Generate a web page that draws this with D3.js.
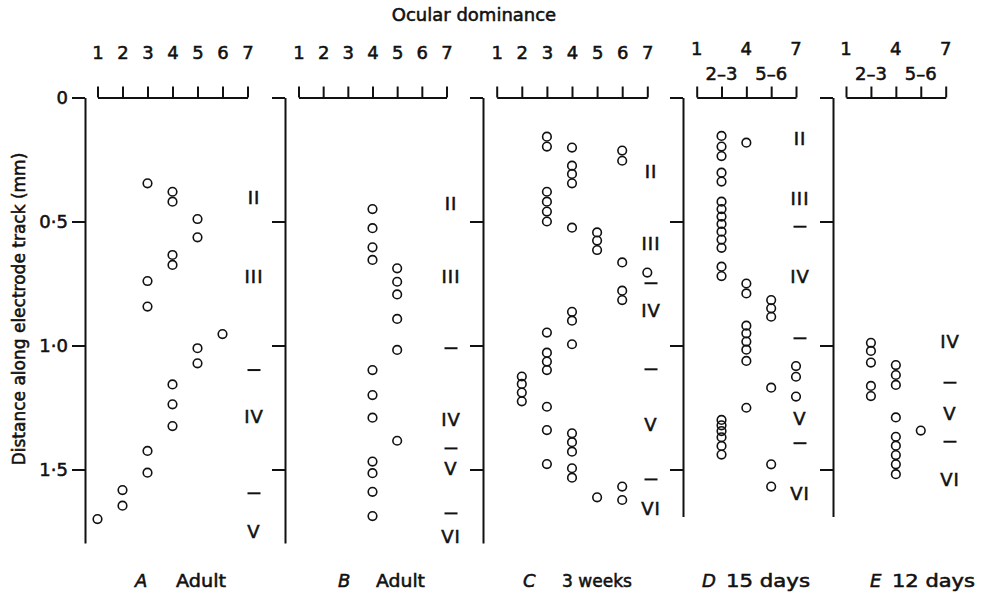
<!DOCTYPE html>
<html>
<head>
<meta charset="utf-8">
<script src="https://cdn.jsdelivr.net/npm/d3@7"></script>
<style>
  body { margin: 0; background: #fff; }
  svg { display: block; }
  text { font-family: "DejaVu Sans", "Liberation Sans", Arial, sans-serif; fill: #111;
         stroke: #111; stroke-width: 0.55px; }
</style>
</head>
<body>
<svg id="chart" width="987" height="593"></svg>
<script>
// Ocular dominance groups: full 7-point scale and the pooled scale
const odFull = [1, 2, 3, 4, 5, 6, 7];
const odPooled = ["1", "2–3", "4", "5–6", "7"];
const depthTicks = [0, 0.5, 1.0, 1.5];

// A — adult
const aOD    = [3, 4, 4, 5, 5, 4, 4, 3, 3, 6, 5, 5, 4, 4, 4, 3, 3, 2, 2, 1];
const aDepth = [0.346, 0.38, 0.42, 0.49, 0.564, 0.635, 0.675, 0.74, 0.843, 0.954,
                1.011, 1.072, 1.157, 1.237, 1.325, 1.425, 1.513, 1.583, 1.646, 1.70];
const aLayers      = ["II", "III", "IV", "V"];
const aLayerDepth  = [0.405, 0.72, 1.287, 1.75];
const aBoundaries  = [1.099, 1.596];

// B — adult
const bOD    = [4, 4, 4, 4, 5, 5, 5, 5, 5, 4, 4, 4, 5, 4, 4, 4, 4];
const bDepth = [0.45, 0.527, 0.604, 0.655, 0.689, 0.743, 0.794, 0.893, 1.018,
                1.099, 1.2, 1.291, 1.384, 1.468, 1.515, 1.59, 1.688];
const bLayers      = ["II", "III", "IV", "V", "VI"];
const bLayerDepth  = [0.427, 0.72, 1.298, 1.495, 1.771];
const bBoundaries  = [1.011, 1.415, 1.677];

// C — 3 weeks
const cOD    = [2, 2, 2, 2,
                3, 3, 3, 3, 3, 3, 3, 3, 3, 3, 3, 3, 3,
                4, 4, 4, 4, 4, 4, 4, 4, 4, 4, 4, 4, 4,
                5, 5, 5, 5,
                6, 6, 6, 6, 6, 6, 6,
                7];
const cDepth = [1.125, 1.155, 1.19, 1.225,
                0.158, 0.198, 0.38, 0.42, 0.46, 0.50, 0.948, 1.029, 1.065, 1.099, 1.247, 1.341, 1.478,
                0.202, 0.275, 0.308, 0.346, 0.525, 0.864, 0.9, 0.995, 1.354, 1.39, 1.428, 1.495, 1.533,
                0.544, 0.577, 0.615, 1.612,
                0.214, 0.255, 0.665, 0.779, 0.817, 1.569, 1.623,
                0.706];
const cLayers      = ["II", "III", "IV", "V", "VI"];
const cLayerDepth  = [0.299, 0.588, 0.857, 1.32, 1.657];
const cBoundaries  = [0.749, 1.096, 1.54];

// D — 15 days
const dOD    = ["2–3", "2–3", "2–3", "2–3", "2–3", "2–3", "2–3", "2–3", "2–3", "2–3",
                "2–3", "2–3", "2–3", "2–3", "2–3", "2–3", "2–3", "2–3", "2–3", "2–3",
                "4", "4", "4", "4", "4", "4", "4", "4", "4",
                "5–6", "5–6", "5–6", "5–6", "5–6", "5–6",
                "7", "7", "7"];
const dDepth = [0.155, 0.198, 0.236, 0.303, 0.339, 0.42, 0.45, 0.48, 0.51, 0.541,
                0.573, 0.606, 0.682, 0.72, 1.30, 1.322, 1.345, 1.37, 1.405, 1.44,
                0.182, 0.75, 0.79, 0.92, 0.951, 0.984, 1.017, 1.062, 1.251,
                0.817, 0.85, 0.884, 1.17, 1.479, 1.569,
                1.083, 1.126, 1.206];
const dLayers      = ["II", "III", "IV", "V", "VI"];
const dLayerDepth  = [0.165, 0.406, 0.72, 1.294, 1.596];
const dBoundaries  = [0.521, 0.971, 1.394];

// E — 12 days
const eOD    = ["2–3", "2–3", "2–3", "2–3", "2–3",
                "4", "4", "4", "4", "4", "4", "4", "4", "4",
                "5–6"];
const eDepth = [0.989, 1.022, 1.069, 1.163, 1.204,
                1.079, 1.119, 1.159, 1.29, 1.368, 1.404, 1.442, 1.479, 1.519,
                1.343];
const eLayers      = ["IV", "V", "VI"];
const eLayerDepth  = [0.985, 1.273, 1.542];
const eBoundaries  = [1.15, 1.388];

// Length of each electrode track axis (mm)
const trackEnds = [1.796, 1.796, 1.796, 1.69, 1.69];

const panelLetters  = ["A", "B", "C", "D", "E"];
const panelCaptions = ["Adult", "Adult", "3 weeks", "15 days", "12 days"];

// Page layout for each panel (pixels)
const layout = [
  { trackX: 85,  odLeft: 97.5,  odRight: 247.5, layerX: 254, letterX: 135, captionX: 176, captionW: 50 },
  { trackX: 285, odLeft: 298.5, odRight: 446.5, layerX: 451, letterX: 338, captionX: 376, captionW: 49 },
  { trackX: 483, odLeft: 496.7, odRight: 647.3, layerX: 651, letterX: 523, captionX: 562, captionW: 70 },
  { trackX: 683, odLeft: 696.7, odRight: 796,   layerX: 800, letterX: 702, captionX: 726, captionW: 84 },
  { trackX: 833, odLeft: 846,   odRight: 945.7, layerX: 950, letterX: 870, captionX: 892, captionW: 83 }
];

const panels = [
  { od: aOD, depth: aDepth, layers: aLayers, layerDepth: aLayerDepth, bounds: aBoundaries, pooled: false },
  { od: bOD, depth: bDepth, layers: bLayers, layerDepth: bLayerDepth, bounds: bBoundaries, pooled: false },
  { od: cOD, depth: cDepth, layers: cLayers, layerDepth: cLayerDepth, bounds: cBoundaries, pooled: false },
  { od: dOD, depth: dDepth, layers: dLayers, layerDepth: dLayerDepth, bounds: dBoundaries, pooled: true },
  { od: eOD, depth: eDepth, layers: eLayers, layerDepth: eLayerDepth, bounds: eBoundaries, pooled: true }
].map((p, i) => Object.assign(p, layout[i], {
  letter: panelLetters[i], caption: panelCaptions[i], trackEnd: trackEnds[i]
}));

const svg = d3.select("#chart");
svg.append("rect").attr("width", 987).attr("height", 593).attr("fill", "#fff");

const FONT = "DejaVu Sans, Liberation Sans, Arial, sans-serif";
const FS = 18;
const ink = "#111";

// Depth along the track, 0 at the cortical surface
const y = d3.scaleLinear().domain([0, 1]).range([97.5, 345.5]);
const depthFmt = d => d === 0 ? "0" : d.toFixed(1).replace(".", "·");

// Titles
svg.append("text")
  .attr("x", 474).attr("y", 21)
  .attr("text-anchor", "middle")
  .attr("font-size", FS)
  .text("Ocular dominance");

svg.append("text")
  .attr("transform", "translate(25,309) rotate(-90)")
  .attr("text-anchor", "middle")
  .attr("font-size", 17)
  .text("Distance along electrode track (mm)");

function styleAxis(g) {
  g.select(".domain").attr("stroke", ink).attr("stroke-width", 2);
  g.selectAll(".tick line").attr("stroke", ink).attr("stroke-width", 2);
  g.selectAll(".tick text").attr("fill", ink).attr("stroke", ink)
    .attr("font-size", FS).attr("font-family", FONT);
}

panels.forEach((p, i) => {
  const g = svg.append("g");

  // Electrode track axis
  const ys = y.copy().domain([0, p.trackEnd]).range([y(0), y(p.trackEnd)]);
  g.append("g")
    .attr("transform", `translate(${p.trackX},0)`)
    .call(d3.axisLeft(ys).tickValues(depthTicks).tickSize(13).tickSizeOuter(0)
      .tickPadding(4).tickFormat(i === 0 ? depthFmt : () => ""))
    .call(styleAxis);

  // Ocular dominance bracket
  let xs;
  if (!p.pooled) {
    xs = d3.scaleLinear().domain([1, 7]).range([p.odLeft, p.odRight]);
    g.append("g")
      .attr("transform", `translate(0,${y(0)})`)
      .call(d3.axisTop(xs).tickValues(odFull).tickSize(11).tickSizeOuter(0)
        .tickPadding(27.5).tickFormat(d3.format("d")))
      .call(styleAxis);
  } else {
    xs = d3.scalePoint().domain(odPooled).range([p.odLeft, p.odRight]);
    g.append("g")
      .attr("transform", `translate(0,${y(0)})`)
      .call(d3.axisTop(xs).tickSize(11).tickSizeOuter(0).tickFormat(() => ""))
      .call(styleAxis);
    g.selectAll("text.od")
      .data(odPooled)
      .join("text")
      .attr("class", "od")
      .attr("x", d => xs(d))
      .attr("y", (d, k) => k % 2 === 0 ? 55 : 80)
      .attr("text-anchor", "middle")
      .attr("font-size", FS)
      .text(d => d);
  }

  // Units
  g.selectAll("circle")
    .data(p.od.map((o, k) => ({ od: o, depth: p.depth[k] })))
    .join("circle")
    .attr("cx", d => xs(d.od))
    .attr("cy", d => y(d.depth))
    .attr("r", 4.3)
    .attr("fill", "none")
    .attr("stroke", ink)
    .attr("stroke-width", 1.6);

  // Cortical layers
  g.selectAll("text.layer")
    .data(p.layers.map((t, k) => ({ t, depth: p.layerDepth[k] })))
    .join("text")
    .attr("class", "layer")
    .attr("x", p.layerX)
    .attr("y", d => y(d.depth))
    .attr("dy", "0.36em")
    .attr("text-anchor", "middle")
    .attr("font-size", FS)
    .attr("letter-spacing", "1px")
    .text(d => d.t);

  g.selectAll("line.bound")
    .data(p.bounds)
    .join("line")
    .attr("class", "bound")
    .attr("x1", p.layerX - 6.5)
    .attr("x2", p.layerX + 6.5)
    .attr("y1", d => y(d))
    .attr("y2", d => y(d))
    .attr("stroke", ink)
    .attr("stroke-width", 2);

  // Panel caption
  g.append("text")
    .attr("x", p.letterX).attr("y", 587)
    .attr("font-size", FS)
    .attr("font-style", "italic")
    .text(p.letter);
  g.append("text")
    .attr("x", p.captionX).attr("y", 587)
    .attr("font-size", FS)
    .attr("textLength", p.captionW)
    .attr("lengthAdjust", "spacingAndGlyphs")
    .text(p.caption);
});
</script>
</body>
</html>
